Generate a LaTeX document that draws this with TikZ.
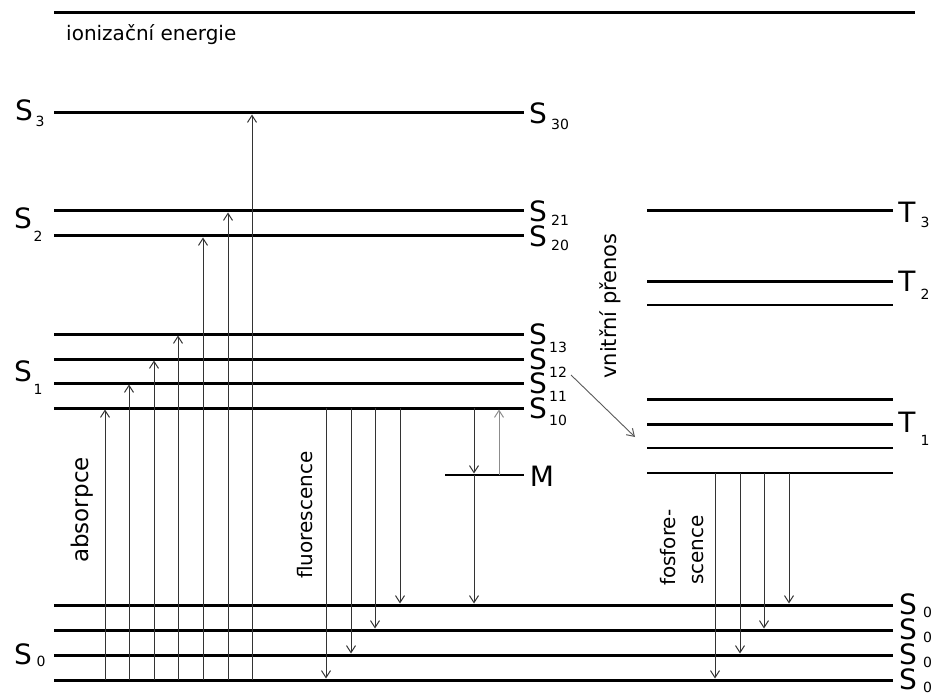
\documentclass[tikz,border=0pt]{standalone}
\usepackage{fontspec}
\setmainfont{DejaVu Sans}
\usetikzlibrary{arrows.meta}
\begin{document}
\begin{tikzpicture}[x=1pt,y=-1pt,
  lvl/.style={line width=3pt},
  lvlthin/.style={line width=2.4pt},
  arr/.style={line width=0.9pt, draw=black!80, -{Straight Barb[length=7pt,width=9pt,line width=1pt]}},
  arrlight/.style={arr, draw=black!45},
  big/.style={font=\fontsize{28}{28}\selectfont, inner sep=0pt},
  sub/.style={font=\fontsize{14}{14}\selectfont, inner sep=0pt},
  lab/.style={font=\fontsize{20}{20}\selectfont, inner sep=0pt}]
\useasboundingbox (0,0) rectangle (932,695);

% ionization
\draw[lvl] (54,13) -- (915,13);
\node[lab, anchor=base west] (ion) at (66,41) {ionizační energie};

% singlet levels
\draw[lvl] (54,113) -- (524,113);
\draw[lvl] (54,211) -- (524,211);
\draw[lvl] (54,236) -- (524,236);
\draw[lvl] (54,334) -- (524,334);
\draw[lvl] (54,359) -- (524,359);
\draw[lvl] (54,383) -- (524,383);
\draw[lvl] (54,408) -- (524,408);
\draw[lvlthin] (445,475) -- (524,475);
\foreach \y in {605,630,655,680} \draw[lvl] (54,\y) -- (893,\y);

% triplet levels
\draw[lvl] (647,211) -- (893,211);
\draw[lvl] (647,281) -- (893,281);
\draw[lvlthin] (647,305) -- (893,305);
\draw[lvl] (647,399) -- (893,399);
\draw[lvl] (647,424) -- (893,424);
\draw[lvlthin] (647,448) -- (893,448);
\draw[lvlthin] (647,473) -- (893,473);

% left labels
\node[big] (LS3) at (24,110) {S};  \node[sub] (LS3i) at (40,121) {3};
\node[big] (LS2) at (23,218) {S};  \node[sub] (LS2i) at (38,236) {2};
\node[big] (LS1) at (23,371) {S};  \node[sub] (LS1i) at (38,389) {1};
\node[big] (LS0) at (23,654) {S};  \node[sub] (LS0i) at (41,661) {0};

% right singlet labels
\node[big] (S30) at (538,113) {S}; \node[sub] (S30i) at (560,124) {30};
\node[big] (S21) at (538,211) {S}; \node[sub] (S21i) at (560,220) {21};
\node[big] (S20) at (538,236) {S}; \node[sub] (S20i) at (560,245) {20};
\node[big] (S13) at (538,334) {S}; \node[sub] (S13i) at (558,347) {13};
\node[big] (S12) at (538,359) {S}; \node[sub] (S12i) at (558,372) {12};
\node[big] (S11) at (538,383) {S}; \node[sub] (S11i) at (558,396) {11};
\node[big] (S10) at (538,408) {S}; \node[sub] (S10i) at (558,420) {10};
\node[big] (M) at (542,476) {M};

% triplet labels
\node[big] (T3) at (907,212) {T}; \node[sub] (T3i) at (925,222) {3};
\node[big] (T2) at (907,281) {T}; \node[sub] (T2i) at (925,294) {2};
\node[big] (T1) at (907,422) {T}; \node[sub] (T1i) at (925,440) {1};

% right ground labels (cut at the right edge as in the reference)
\node[big] (S03) at (908,604) {S}; \node[sub] (S03i) at (932,612) {03};
\node[big] (S02) at (908,629) {S}; \node[sub] (S02i) at (932,637) {02};
\node[big] (S01) at (908,654) {S}; \node[sub] (S01i) at (932,662) {01};
\node[big] (S00) at (908,679) {S}; \node[sub] (S00i) at (932,687) {00};

% rotated labels
\node[lab, font=\fontsize{23}{23}\selectfont, rotate=90, anchor=base] (abs) at (88,510) {absorpce};
\node[lab, rotate=90, anchor=base] (flu) at (312,515) {fluorescence};
\node[lab, font=\fontsize{21}{21}\selectfont, rotate=90, anchor=base] (vp) at (616,306) {vnitřní přenos};
\node[lab, rotate=90, anchor=base west] (fos1) at (675,586) {fosfore-};
\node[lab, rotate=90, anchor=base west] (fos2) at (703,585) {scence};

% absorption
\draw[arr] (105,680) -- (105,409.5);
\draw[arr] (129,680) -- (129,384.5);
\draw[arr] (154,680) -- (154,360.5);
\draw[arr] (178,680) -- (178,335.5);
\draw[arr] (203,680) -- (203,237.5);
\draw[arr] (228,680) -- (228,212.5);
\draw[arr] (252,680) -- (252,114.5);

% fluorescence
\draw[arr] (326,408) -- (326,678.5);
\draw[arr] (351,408) -- (351,653.5);
\draw[arr] (375,408) -- (375,628.5);
\draw[arr] (400,408) -- (400,603.5);

% M
\draw[arr] (474,408) -- (474,473.5);
\draw[arr] (474,475) -- (474,603.5);
\draw[arrlight] (499,475) -- (499,409.5);

% intersystem crossing
\draw[arr, draw=black!65] (571,375) -- (635,437);

% phosphorescence
\draw[arr] (715,473) -- (715,678.5);
\draw[arr] (740,473) -- (740,653.5);
\draw[arr] (764,473) -- (764,628.5);
\draw[arr] (789,473) -- (789,603.5);
\end{tikzpicture}
\end{document}
